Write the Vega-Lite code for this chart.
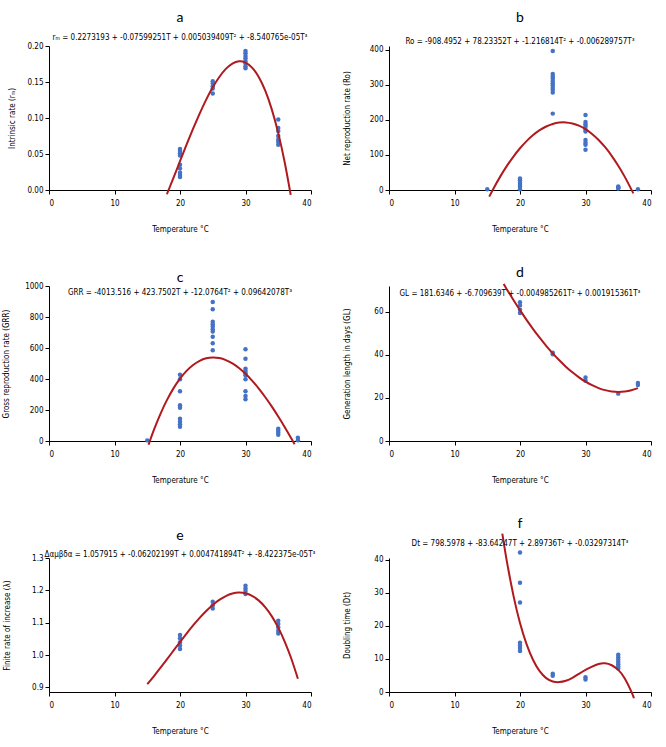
{
  "$schema": "https://vega.github.io/schema/vega-lite/v6.json",
  "background": "white",
  "padding": {"left": 2, "top": 10, "right": 5, "bottom": 5},
  "config": {
    "view": {"stroke": null},
    "font": "Liberation Sans Narrow, DejaVu Sans Condensed, Liberation Sans, sans-serif",
    "axis": {"grid": false, "domainColor": "black", "tickColor": "black", "tickSize": 4, "labelFontSize": 8, "titleFontSize": 8, "titleFontWeight": "normal", "labelColor": "black", "titleColor": "black", "labelFont": "Liberation Sans Narrow, DejaVu Sans Condensed, sans-serif", "titleFont": "Liberation Sans Narrow, DejaVu Sans Condensed, sans-serif"},
    "axisX": {"labelPadding": 5, "titlePadding": 18},
    "title": {"font": "Lato", "fontSize": 14, "fontWeight": "normal", "color": "black", "subtitleFont": "Liberation Sans Narrow, DejaVu Sans Condensed, sans-serif", "subtitleFontSize": 8, "subtitleColor": "black", "anchor": "middle"}
  },
  "datasets": {
    "a_obs": [{"T":20,"v":0.057},{"T":20,"v":0.054},{"T":20,"v":0.051},{"T":20,"v":0.048},{"T":20,"v":0.035},{"T":20,"v":0.030},{"T":20,"v":0.024},{"T":20,"v":0.021},{"T":20,"v":0.018},{"T":25,"v":0.151},{"T":25,"v":0.148},{"T":25,"v":0.144},{"T":25,"v":0.141},{"T":25,"v":0.134},{"T":30,"v":0.193},{"T":30,"v":0.190},{"T":30,"v":0.186},{"T":30,"v":0.183},{"T":30,"v":0.179},{"T":30,"v":0.176},{"T":30,"v":0.172},{"T":30,"v":0.169},{"T":35,"v":0.098},{"T":35,"v":0.086},{"T":35,"v":0.082},{"T":35,"v":0.075},{"T":35,"v":0.070},{"T":35,"v":0.067},{"T":35,"v":0.063}],
    "a_fit": [{"T":18,"v":-0.0059},{"T":19,"v":0.0169},{"T":20,"v":0.0400},{"T":21,"v":0.0629},{"T":22,"v":0.0851},{"T":23,"v":0.1061},{"T":24,"v":0.1255},{"T":25,"v":0.1426},{"T":26,"v":0.1570},{"T":27,"v":0.1682},{"T":28,"v":0.1756},{"T":29,"v":0.1787},{"T":30,"v":0.1770},{"T":31,"v":0.1700},{"T":32,"v":0.1573},{"T":33,"v":0.1382},{"T":34,"v":0.1123},{"T":35,"v":0.0790},{"T":36,"v":0.0379},{"T":36.9,"v":-0.0067}],
    "b_obs": [{"T":15,"v":2},{"T":20,"v":33},{"T":20,"v":28},{"T":20,"v":21},{"T":20,"v":14},{"T":20,"v":9},{"T":20,"v":2},{"T":25,"v":397},{"T":25,"v":331},{"T":25,"v":324},{"T":25,"v":318},{"T":25,"v":311},{"T":25,"v":305},{"T":25,"v":299},{"T":25,"v":292},{"T":25,"v":286},{"T":25,"v":278},{"T":25,"v":218},{"T":30,"v":214},{"T":30,"v":194},{"T":30,"v":188},{"T":30,"v":181},{"T":30,"v":173},{"T":30,"v":167},{"T":30,"v":143},{"T":30,"v":135},{"T":30,"v":129},{"T":30,"v":115},{"T":35,"v":10},{"T":35,"v":8},{"T":35,"v":6},{"T":35,"v":4},{"T":38,"v":2}],
    "b_fit": [{"T":15.3,"v":-18.9},{"T":16,"v":6.0},{"T":17,"v":38.9},{"T":18,"v":68.8},{"T":19,"v":95.5},{"T":20,"v":119.1},{"T":21,"v":139.5},{"T":22,"v":156.7},{"T":23,"v":170.7},{"T":24,"v":181.3},{"T":25,"v":188.6},{"T":26,"v":192.5},{"T":27,"v":193.0},{"T":28,"v":190.0},{"T":29,"v":183.5},{"T":30,"v":173.6},{"T":31,"v":160.0},{"T":32,"v":142.9},{"T":33,"v":122.1},{"T":34,"v":97.6},{"T":35,"v":69.4},{"T":36,"v":37.5},{"T":37,"v":1.7},{"T":37.3,"v":-9.7}],
    "c_obs": [{"T":15,"v":4},{"T":20,"v":428},{"T":20,"v":398},{"T":20,"v":321},{"T":20,"v":230},{"T":20,"v":215},{"T":20,"v":144},{"T":20,"v":125},{"T":20,"v":108},{"T":20,"v":92},{"T":25,"v":897},{"T":25,"v":850},{"T":25,"v":770},{"T":25,"v":753},{"T":25,"v":738},{"T":25,"v":721},{"T":25,"v":706},{"T":25,"v":673},{"T":25,"v":630},{"T":25,"v":585},{"T":30,"v":592},{"T":30,"v":531},{"T":30,"v":467},{"T":30,"v":452},{"T":30,"v":437},{"T":30,"v":424},{"T":30,"v":398},{"T":30,"v":321},{"T":30,"v":290},{"T":30,"v":269},{"T":35,"v":79},{"T":35,"v":66},{"T":35,"v":54},{"T":35,"v":41},{"T":38,"v":21},{"T":38,"v":5}],
    "c_fit": [{"T":15.2,"v":-24.0},{"T":16,"v":69.9},{"T":17,"v":173.9},{"T":18,"v":263.6},{"T":19,"v":339.5},{"T":20,"v":402.3},{"T":21,"v":452.5},{"T":22,"v":490.7},{"T":23,"v":517.5},{"T":24,"v":533.4},{"T":25,"v":539.1},{"T":26,"v":535.0},{"T":27,"v":521.9},{"T":28,"v":500.2},{"T":29,"v":470.6},{"T":30,"v":433.6},{"T":31,"v":389.8},{"T":32,"v":339.8},{"T":33,"v":284.1},{"T":34,"v":223.4},{"T":35,"v":158.2},{"T":36,"v":89.1},{"T":37,"v":16.7},{"T":37.5,"v":-20.6}],
    "d_obs": [{"T":20,"v":64.5},{"T":20,"v":63},{"T":20,"v":61},{"T":20,"v":59.5},{"T":25,"v":41},{"T":25,"v":40.3},{"T":30,"v":29.5},{"T":30,"v":28},{"T":35,"v":22},{"T":38,"v":27},{"T":38,"v":26}],
    "d_fit": [{"T":17.5,"v":72.95},{"T":18,"v":70.42},{"T":19,"v":65.49},{"T":20,"v":60.77},{"T":21,"v":56.27},{"T":22,"v":52.01},{"T":23,"v":47.98},{"T":24,"v":44.21},{"T":25,"v":40.71},{"T":26,"v":37.48},{"T":27,"v":34.54},{"T":28,"v":31.90},{"T":29,"v":29.58},{"T":30,"v":27.57},{"T":31,"v":25.91},{"T":32,"v":24.59},{"T":33,"v":23.62},{"T":34,"v":23.03},{"T":35,"v":22.81},{"T":36,"v":22.99},{"T":37,"v":23.57},{"T":38,"v":24.57}],
    "e_obs": [{"T":20,"v":1.062},{"T":20,"v":1.052},{"T":20,"v":1.040},{"T":20,"v":1.030},{"T":20,"v":1.019},{"T":25,"v":1.165},{"T":25,"v":1.154},{"T":25,"v":1.144},{"T":30,"v":1.214},{"T":30,"v":1.206},{"T":30,"v":1.198},{"T":30,"v":1.189},{"T":35,"v":1.106},{"T":35,"v":1.096},{"T":35,"v":1.086},{"T":35,"v":1.075},{"T":35,"v":1.067}],
    "e_fit": [{"T":15,"v":0.9103},{"T":16,"v":0.9345},{"T":17,"v":0.9602},{"T":18,"v":0.9867},{"T":19,"v":1.0136},{"T":20,"v":1.0404},{"T":21,"v":1.0666},{"T":22,"v":1.0917},{"T":23,"v":1.1151},{"T":24,"v":1.1364},{"T":25,"v":1.1551},{"T":26,"v":1.1705},{"T":27,"v":1.1824},{"T":28,"v":1.1901},{"T":29,"v":1.1931},{"T":30,"v":1.1909},{"T":31,"v":1.1831},{"T":32,"v":1.1691},{"T":33,"v":1.1484},{"T":34,"v":1.1205},{"T":35,"v":1.0849},{"T":36,"v":1.0411},{"T":37,"v":0.9886},{"T":38,"v":0.9268}],
    "f_obs": [{"T":20,"v":42.3},{"T":20,"v":33.1},{"T":20,"v":27.1},{"T":20,"v":14.9},{"T":20,"v":14.1},{"T":20,"v":13.3},{"T":20,"v":12.4},{"T":25,"v":5.5},{"T":25,"v":4.9},{"T":30,"v":4.5},{"T":30,"v":3.8},{"T":35,"v":11.3},{"T":35,"v":10.5},{"T":35,"v":9.8},{"T":35,"v":9.1},{"T":35,"v":8.4},{"T":35,"v":7.7},{"T":35,"v":7.1}],
    "f_fit": [{"T":17.3,"v":48.0},{"T":18,"v":39.5},{"T":19,"v":29.2},{"T":20,"v":20.9},{"T":21,"v":14.5},{"T":22,"v":9.7},{"T":23,"v":6.3},{"T":24,"v":4.2},{"T":25,"v":3.2},{"T":26,"v":3.0},{"T":27,"v":3.4},{"T":28,"v":4.3},{"T":29,"v":5.5},{"T":30,"v":6.7},{"T":31,"v":7.7},{"T":32,"v":8.5},{"T":33,"v":8.7},{"T":34,"v":8.1},{"T":35,"v":6.7},{"T":36,"v":4.1},{"T":37,"v":0.1},{"T":37.4,"v":-1.9}]
  },
  "spacing": 32,
  "vconcat": [
    {
      "bounds": "flush",
      "spacing": 78,
      "hconcat": [
        {
          "width": 262, "height": 144,
          "title": {"text": "a", "subtitle": "rₘ = 0.2273193 + -0.07599251T + 0.005039409T² + -8.540765e-05T³", "offset": 0, "subtitlePadding": 9},
          "encoding": {
            "x": {"field": "T", "type": "quantitative", "scale": {"domain": [0, 40], "nice": false}, "axis": {"values": [0, 10, 20, 30, 40], "title": "Temperature °C"}},
            "y": {"field": "v", "type": "quantitative", "scale": {"domain": [0, 0.2], "nice": false, "zero": false}, "axis": {"values": [0, 0.05, 0.1, 0.15, 0.2], "format": ".2f", "title": "Intrinsic rate (rₘ)", "titlePadding": 10}}
          },
          "layer": [
            {"data": {"name": "a_obs"}, "mark": {"type": "circle", "size": 20, "color": "#4472c4", "opacity": 1}},
            {"data": {"name": "a_fit"}, "mark": {"type": "line", "color": "#b01a1e", "strokeWidth": 2, "interpolate": "natural"}}
          ]
        },
        {
          "width": 262, "height": 144,
          "title": {"text": "b", "subtitle": "Ro = -908.4952 + 78.23352T + -1.216814T² + -0.006289757T³", "offset": 0, "subtitlePadding": 13},
          "encoding": {
            "x": {"field": "T", "type": "quantitative", "scale": {"domain": [0, 40], "nice": false}, "axis": {"values": [0, 10, 20, 30, 40], "title": "Temperature °C"}},
            "y": {"field": "v", "type": "quantitative", "scale": {"domain": [0, 411], "nice": false, "zero": false}, "axis": {"values": [0, 100, 200, 300, 400], "title": "Net reproduction rate (Ro)", "titlePadding": 18}}
          },
          "layer": [
            {"data": {"name": "b_obs"}, "mark": {"type": "circle", "size": 20, "color": "#4472c4", "opacity": 1}},
            {"data": {"name": "b_fit"}, "mark": {"type": "line", "color": "#b01a1e", "strokeWidth": 2, "interpolate": "natural"}}
          ]
        }
      ]
    },
    {
      "bounds": "flush",
      "spacing": 78,
      "hconcat": [
        {
          "width": 262, "height": 155,
          "title": {"text": "c", "subtitle": "GRR = -4013.516 + 423.7502T + -12.0764T² + 0.09642078T³", "offset": -15, "subtitlePadding": 4},
          "encoding": {
            "x": {"field": "T", "type": "quantitative", "scale": {"domain": [0, 40], "nice": false}, "axis": {"values": [0, 10, 20, 30, 40], "title": "Temperature °C"}},
            "y": {"field": "v", "type": "quantitative", "scale": {"domain": [0, 1000], "nice": false, "zero": false}, "axis": {"values": [0, 200, 400, 600, 800, 1000], "format": "d", "title": "Gross reproduction rate (GRR)", "titlePadding": 14}}
          },
          "layer": [
            {"data": {"name": "c_obs"}, "mark": {"type": "circle", "size": 20, "color": "#4472c4", "opacity": 1}},
            {"data": {"name": "c_fit"}, "mark": {"type": "line", "color": "#b01a1e", "strokeWidth": 2, "interpolate": "natural"}}
          ]
        },
        {
          "width": 262, "height": 155,
          "title": {"text": "d", "subtitle": "GL = 181.6346 + -6.709639T + -0.004985261T² + 0.001915361T³", "offset": -18, "subtitlePadding": 10},
          "encoding": {
            "x": {"field": "T", "type": "quantitative", "scale": {"domain": [0, 40], "nice": false}, "axis": {"values": [0, 10, 20, 30, 40], "title": "Temperature °C"}},
            "y": {"field": "v", "type": "quantitative", "scale": {"domain": [0, 72], "nice": false, "zero": false}, "axis": {"values": [0, 20, 40, 60], "title": "Generation length in days (GL)", "titlePadding": 22}}
          },
          "layer": [
            {"data": {"name": "d_obs"}, "mark": {"type": "circle", "size": 20, "color": "#4472c4", "opacity": 1}},
            {"data": {"name": "d_fit"}, "mark": {"type": "line", "color": "#b01a1e", "strokeWidth": 2, "interpolate": "natural"}}
          ]
        }
      ]
    },
    {
      "bounds": "flush",
      "spacing": 78,
      "hconcat": [
        {
          "width": 262, "height": 134,
          "title": {"text": "e", "subtitle": "Δαμβδα = 1.057915 + -0.06202199T + 0.004741894T² + -8.422375e-05T³", "offset": -5, "subtitlePadding": 8},
          "encoding": {
            "x": {"field": "T", "type": "quantitative", "scale": {"domain": [0, 40], "nice": false}, "axis": {"values": [0, 10, 20, 30, 40], "title": "Temperature °C"}},
            "y": {"field": "v", "type": "quantitative", "scale": {"domain": [0.886, 1.3], "nice": false, "zero": false}, "axis": {"values": [0.9, 1.0, 1.1, 1.2, 1.3], "format": ".1f", "title": "Finite rate of increase (λ)", "titlePadding": 20}}
          },
          "layer": [
            {"data": {"name": "e_obs"}, "mark": {"type": "circle", "size": 20, "color": "#4472c4", "opacity": 1}},
            {"data": {"name": "e_fit"}, "mark": {"type": "line", "color": "#b01a1e", "strokeWidth": 2, "interpolate": "natural"}}
          ]
        },
        {
          "width": 262, "height": 134,
          "title": {"text": "f", "subtitle": "Dt = 798.5978 + -83.64247T + 2.89736T² + -0.03297314T³", "offset": -18, "subtitlePadding": 9},
          "encoding": {
            "x": {"field": "T", "type": "quantitative", "scale": {"domain": [0, 40], "nice": false}, "axis": {"values": [0, 10, 20, 30, 40], "title": "Temperature °C"}},
            "y": {"field": "v", "type": "quantitative", "scale": {"domain": [0, 40.6], "nice": false, "zero": false}, "axis": {"values": [0, 10, 20, 30, 40], "title": "Doubling time (Dt)", "titlePadding": 22}}
          },
          "layer": [
            {"data": {"name": "f_obs"}, "mark": {"type": "circle", "size": 20, "color": "#4472c4", "opacity": 1}},
            {"data": {"name": "f_fit"}, "mark": {"type": "line", "color": "#b01a1e", "strokeWidth": 2, "interpolate": "natural"}}
          ]
        }
      ]
    }
  ]
}
